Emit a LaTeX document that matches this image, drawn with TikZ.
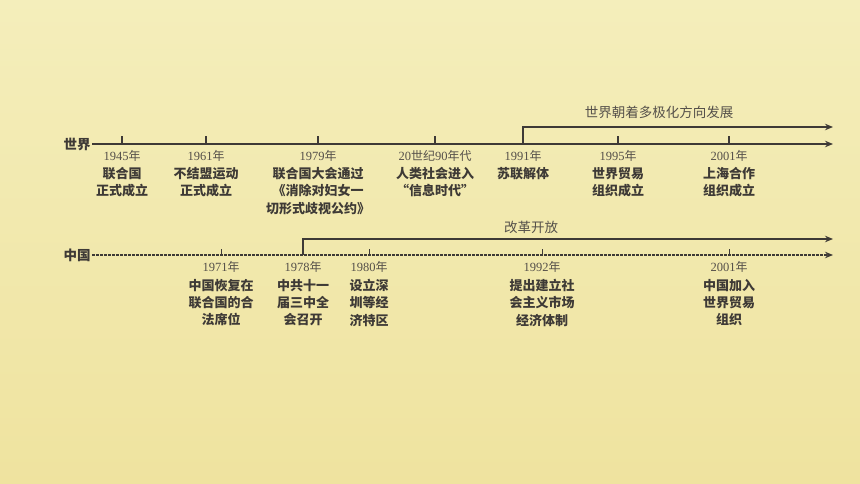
\documentclass[tikz,border=0pt]{standalone}
\usepackage{fontspec}
\setmainfont{Liberation Serif}
\newfontfamily\cjk{Noto Sans CJK SC}
\usetikzlibrary{arrows.meta}
\definecolor{bgtop}{HTML}{F4EEBB}
\definecolor{bgbot}{HTML}{EFE39F}
\definecolor{ink}{HTML}{3E3A36}
\definecolor{yearc}{HTML}{55504A}
\tikzset{
  axisline/.style={draw=ink, line width=1.6pt, -{Stealth[length=8pt,width=6.5pt]}},
  chinaline/.style={draw=ink, line width=1.4pt, dash pattern=on 2.6pt off 1.4pt, -{Stealth[length=8pt,width=6.5pt]}},
  tickmark/.style={draw=ink, line width=1.3pt},
  smalltick/.style={draw=ink, line width=1pt},
  yearlbl/.style={font=\fontsize{12.5}{12.5}\selectfont, text=yearc, inner sep=0pt, anchor=center},
  eventlbl/.style={font=\cjk\bfseries\fontsize{13}{17.3}\selectfont, text=ink, inner sep=0pt, align=center, anchor=north},
  axislbl/.style={font=\cjk\bfseries\fontsize{13.5}{14}\selectfont, text=ink, inner sep=0pt, anchor=center},
  periodlbl/.style={font=\cjk\fontsize{13.5}{14}\selectfont, text=yearc, inner sep=0pt, anchor=center},
}
\newcommand{\nian}[1]{{\cjk\fontsize{12}{12}\selectfont #1}}
\begin{document}
\begin{tikzpicture}[x=1pt,y=-1pt]
\shade[top color=bgtop, bottom color=bgbot] (0,0) rectangle (860,484);
\useasboundingbox (0,0) rectangle (860,484);

% ---------- World axis ----------
\node[axislbl] (world) at (77,144) {世界};
\coordinate (ws) at (92,144);
\coordinate (we) at (833,144);
\draw[axisline] (ws) -- (we);
\foreach \n/\x in {w45/122, w61/206, w79/318, w90/435, w91/523, w95/618, w01/729}{
  \coordinate (\n) at (\x,144);
  \coordinate (\n t) at (\x,136);
  \draw[tickmark] (\n) -- (\n t);
}
\coordinate (wbtop) at (523,127);
\coordinate (wbend) at (833,127);
\draw[axisline] (w91) -- (wbtop) -- (wbend);
\node[periodlbl] (multipolar) at (659,112) {世界朝着多极化方向发展};

\node[yearlbl] (y45) at (122,156) {1945\nian{年}};
\node[yearlbl] (y61) at (206,156) {1961\nian{年}};
\node[yearlbl] (y79) at (318,156) {1979\nian{年}};
\node[yearlbl] (y90) at (435,156) {20\nian{世纪}90\nian{年代}};
\node[yearlbl] (y91) at (523,156) {1991\nian{年}};
\node[yearlbl] (y95) at (618,156) {1995\nian{年}};
\node[yearlbl] (y01) at (729,156) {2001\nian{年}};

\node[eventlbl] (e45) at (122,167) {联合国\\正式成立};
\node[eventlbl] (e61) at (206,167) {不结盟运动\\正式成立};
\node[eventlbl] (e79) at (318,167) {联合国大会通过\\《消除对妇女一\\切形式歧视公约》};
\node[eventlbl] (e90) at (435,167) {人类社会进入\\“信息时代”};
\node[eventlbl] (e91) at (523,167) {苏联解体};
\node[eventlbl] (e95) at (618,167) {世界贸易\\组织成立};
\node[eventlbl] (e01) at (729,167) {上海合作\\组织成立};

% ---------- China axis ----------
\node[axislbl] (china) at (77,255) {中国};
\coordinate (cs) at (92,255);
\coordinate (ce) at (833,255);
\draw[chinaline] (cs) -- (ce);
\foreach \n/\x in {c71/221, c78/303, c80/369, c92/542, c01/729}{
  \coordinate (\n) at (\x,255);
  \coordinate (\n t) at (\x,249);
}
\foreach \n in {c71, c80, c92, c01}{
  \draw[smalltick] (\n) -- (\n t);
}
\coordinate (cbtop) at (303,239);
\coordinate (cbend) at (833,239);
\draw[axisline] (c78) -- (cbtop) -- (cbend);
\node[periodlbl] (reform) at (531,227) {改革开放};

\node[yearlbl] (z71) at (221,267) {1971\nian{年}};
\node[yearlbl] (z78) at (303,267) {1978\nian{年}};
\node[yearlbl] (z80) at (369,267) {1980\nian{年}};
\node[yearlbl] (z92) at (542,267) {1992\nian{年}};
\node[yearlbl] (z01) at (729,267) {2001\nian{年}};

\node[eventlbl] (f71) at (221,279) {中国恢复在\\联合国的合\\法席位};
\node[eventlbl] (f78) at (303,279) {中共十一\\届三中全\\会召开};
\node[eventlbl] (f80) at (369,279) {设立深\\圳等经\\济特区};
\node[eventlbl] (f92) at (542,279) {提出建立社\\会主义市场\\经济体制};
\node[eventlbl] (f01) at (729,279) {中国加入\\世界贸易\\组织};
\end{tikzpicture}
\end{document}
